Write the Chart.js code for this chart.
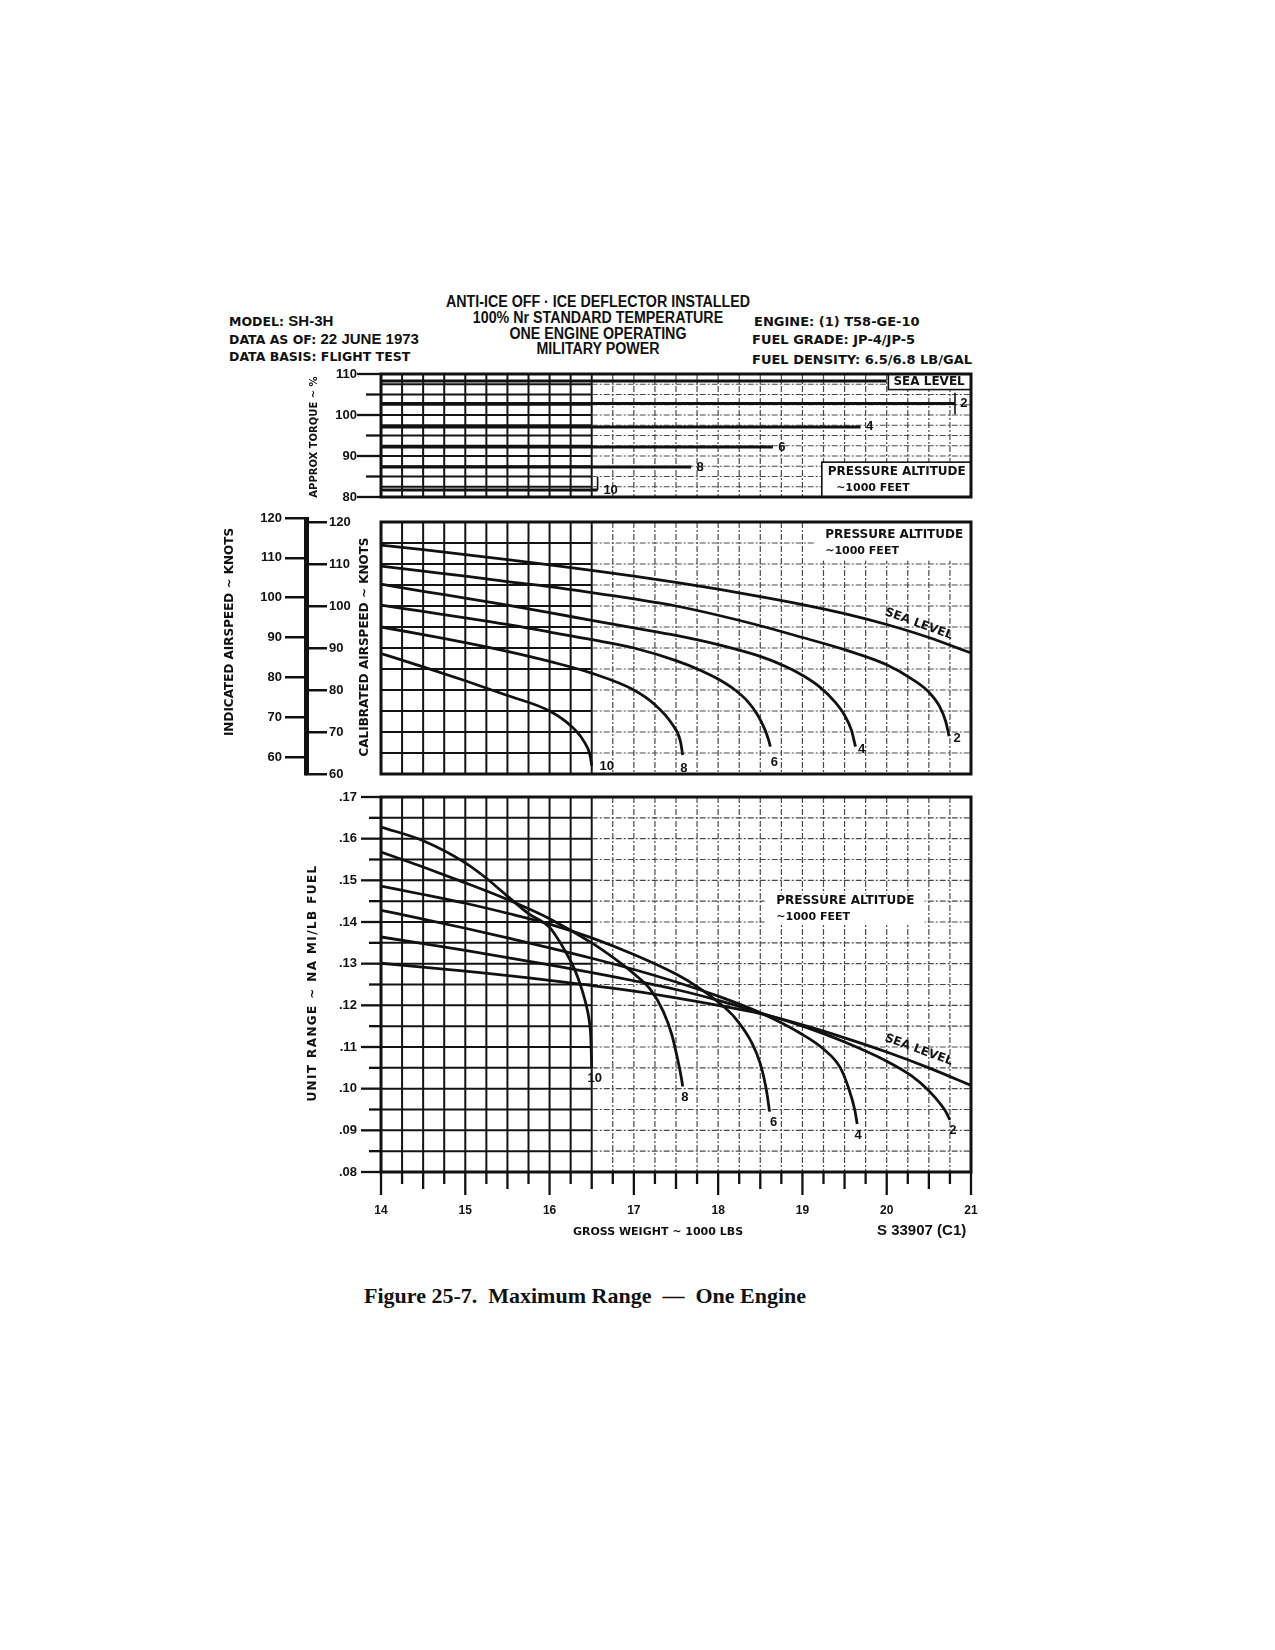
<!DOCTYPE html>
<html>
<head>
<meta charset="utf-8">
<script src="https://cdn.jsdelivr.net/npm/chart.js@4.4.1/dist/chart.umd.min.js"></script>
<style>
  html, body { margin: 0; padding: 0; background: #fff; }
  body { width: 1275px; height: 1650px; position: relative; overflow: hidden; }
  canvas { position: absolute; }
  .t { position: absolute; white-space: nowrap; color: #111; font-weight: bold; }
  .lab { font-family: "DejaVu Sans", sans-serif; font-size: 12.5px; line-height: 18px; }
  .val { font-family: "Liberation Sans", sans-serif; font-size: 15px; }
  .mid { font-family: "Liberation Sans", sans-serif; font-size: 16px; line-height: 15.8px;
         width: 400px; text-align: center; transform: scaleX(0.89); transform-origin: 50% 50%; }
  .cap { font-family: "Liberation Serif", serif; font-size: 22px; line-height: 26px; }
</style>
</head>
<body>

<div class="t lab" style="left:229px;top:312px">MODEL: <span class="val">SH-3H</span></div>
<div class="t lab" style="left:229px;top:330px">DATA AS OF: <span class="val">22 JUNE 1973</span></div>
<div class="t lab" style="left:229px;top:348px">DATA BASIS: FLIGHT TEST</div>

<div class="t mid" style="left:398px;top:294px">ANTI-ICE OFF · ICE DEFLECTOR INSTALLED<br>100% Nr STANDARD TEMPERATURE<br>ONE ENGINE OPERATING<br>MILITARY POWER</div>

<div class="t lab" style="left:754px;top:313px;font-size:13px">ENGINE: (1) T58-GE-10</div>
<div class="t lab" style="left:752px;top:331px;font-size:13px">FUEL GRADE: JP-4/JP-5</div>
<div class="t lab" style="left:752px;top:351px;font-size:13px">FUEL DENSITY: 6.5/6.8 LB/GAL</div>

<canvas id="torque" width="1275" height="160" style="left:0;top:355px"></canvas>
<canvas id="speed" width="1275" height="285" style="left:0;top:505px"></canvas>
<canvas id="conv" width="150" height="290" style="left:218px;top:500px"></canvas>
<canvas id="range" width="1275" height="472" style="left:0;top:780px"></canvas>

<div class="t lab" style="left:877px;top:1221px;font-family:'Liberation Sans',sans-serif;font-size:15px">S 33907 (C1)</div>
<div class="t cap" style="left:364px;top:1283px">Figure 25-7.&nbsp; Maximum Range &nbsp;—&nbsp; One Engine</div>

<script>
// ---- data (gross weight ~ 1000 lbs) ----
const weightTicks = [14, 15, 16, 17, 18, 19, 20, 21];
const torqueTicks = [80, 90, 100, 110];
const iasTicks = [60, 70, 80, 90, 100, 110, 120];
const casTicks = [60, 70, 80, 90, 100, 110, 120];
const rangeTicks = [0.08, 0.09, 0.10, 0.11, 0.12, 0.13, 0.14, 0.15, 0.16, 0.17];
const altitudes = ['SEA LEVEL', '2', '4', '6', '8', '10'];

// approx torque (%) for each pressure altitude, and the weight where the line stops
const torqueLevel = [108.3, 102.8, 97.1, 92.2, 87.3, 81.7];
const torqueEndW = [20.0, 20.81, 19.69, 18.65, 17.68, 16.57];

// calibrated airspeed (knots)
const casW_SL = [14, 14.5, 15, 15.5, 16, 16.5, 17, 17.5, 18, 18.5, 19, 19.5, 20, 20.5, 21];
const cas_SL  = [114.5, 113.4, 112.25, 111.05, 109.8, 108.5, 107.1, 105.6, 104.0, 102.25, 100.35, 98.2, 95.6, 92.5, 88.8];
const casW_2  = [14, 14.5, 15, 15.5, 16, 16.5, 17, 17.5, 18, 18.5, 19, 19.5, 20, 20.3, 20.5, 20.63, 20.7, 20.74];
const cas_2   = [109.5, 108.3, 107.1, 105.8, 104.6, 103.2, 101.7, 100.0, 97.8, 95.3, 92.5, 89.6, 86.0, 82.6, 79.5, 76.0, 72.5, 69.0];
const casW_4  = [14, 14.5, 15, 15.5, 16, 16.5, 17, 17.5, 18, 18.5, 18.8, 19, 19.2, 19.38, 19.5, 19.58, 19.63];
const cas_4   = [105.2, 103.5, 101.9, 100.2, 98.4, 96.6, 94.8, 93.0, 90.8, 88.0, 85.6, 83.5, 80.8, 77.3, 74.0, 70.5, 66.5];
const casW_6  = [14, 14.5, 15, 15.5, 16, 16.5, 17, 17.5, 17.8, 18, 18.2, 18.35, 18.47, 18.55, 18.6, 18.62];
const cas_6   = [100.2, 98.7, 97.2, 95.6, 93.8, 92.0, 90.0, 87.0, 84.6, 82.6, 80.0, 77.3, 74.0, 70.8, 68.0, 66.5];
const casW_8  = [14, 14.5, 15, 15.5, 16, 16.5, 17, 17.25, 17.45, 17.55, 17.58];
const cas_8   = [95.0, 93.2, 91.3, 89.2, 86.8, 84.0, 80.0, 76.5, 72.0, 68.0, 64.5];
const casW_10 = [14, 14.5, 15, 15.5, 16, 16.25, 16.4, 16.48, 16.5];
const cas_10  = [88.7, 85.5, 82.2, 78.7, 75.0, 71.5, 68.0, 64.5, 62.0];

// unit range (nautical miles per lb of fuel)
const urW_SL = [14, 15, 16, 17, 17.5, 18, 18.5, 19, 19.5, 20, 20.5, 21];
const ur_SL  = [0.1301, 0.1282, 0.1260, 0.1234, 0.1218, 0.1200, 0.1180, 0.1153, 0.1122, 0.1088, 0.1050, 0.1008];
const urW_2  = [14, 15, 16, 17, 17.5, 18, 18.5, 19, 19.5, 20, 20.3, 20.5, 20.63, 20.7, 20.75];
const ur_2   = [0.1364, 0.1332, 0.1297, 0.1259, 0.1238, 0.1212, 0.1182, 0.1150, 0.1112, 0.1066, 0.1030, 0.0995, 0.0965, 0.0945, 0.0925];
const urW_4  = [14, 14.5, 15, 15.5, 16, 16.5, 17, 17.5, 18, 18.5, 19, 19.25, 19.45, 19.55, 19.62, 19.65];
const ur_4   = [0.1428, 0.1407, 0.1385, 0.1362, 0.1338, 0.1313, 0.1286, 0.1256, 0.1222, 0.1182, 0.1130, 0.1095, 0.1050, 0.1000, 0.0950, 0.0915];
const urW_6  = [14, 14.5, 15, 15.5, 16, 16.5, 17, 17.5, 17.75, 18, 18.2, 18.4, 18.5, 18.57, 18.61];
const ur_6   = [0.1486, 0.1466, 0.1445, 0.1421, 0.1395, 0.1362, 0.1322, 0.1275, 0.1245, 0.1208, 0.1170, 0.1110, 0.1060, 0.1000, 0.0945];
const urW_8  = [14, 14.5, 15, 15.5, 16, 16.5, 16.8, 17, 17.2, 17.35, 17.45, 17.52, 17.56, 17.58];
const ur_8   = [0.1568, 0.1532, 0.1494, 0.1454, 0.1408, 0.1350, 0.1308, 0.1276, 0.1237, 0.1185, 0.1130, 0.1070, 0.1030, 0.1005];
const urW_10 = [14, 14.5, 15, 15.25, 15.5, 15.75, 16, 16.2, 16.3, 16.38, 16.44, 16.47, 16.49, 16.5];
const ur_10  = [0.1628, 0.1595, 0.1542, 0.1505, 0.1462, 0.1420, 0.1387, 0.1325, 0.1285, 0.1240, 0.1196, 0.1164, 0.1120, 0.1050];

// ---- styling ----
const INK = '#111';
const NUM_FAMILY = '"Liberation Sans", Arial, sans-serif';
const WIDE_FAMILY = '"DejaVu Sans", sans-serif';
const TICK_FONT = { family: NUM_FAMILY, size: 13, weight: 'bold' };
const TAG_FONT = 'bold 13px ' + NUM_FAMILY;
const NOTE_FONT = 'bold 12px ' + WIDE_FAMILY;
const SMALL_NOTE = 'bold 11px ' + WIDE_FAMILY;

Chart.defaults.animation = false;
Chart.defaults.color = INK;
Chart.defaults.font.family = NUM_FAMILY;
Chart.defaults.font.weight = 'bold';
Chart.defaults.plugins.legend.display = false;
Chart.defaults.plugins.tooltip.enabled = false;

const pts = (ws, vs) => ws.map((w, i) => ({ x: w, y: vs[i] }));
const fixTicks = list => scale => { scale.ticks = list.map(v => ({ value: v })); };

function curve(ws, vs, tag) {
  return {
    data: pts(ws, vs), tag,
    borderColor: INK, borderWidth: 2.8, pointRadius: 0, fill: false,
    cubicInterpolationMode: 'monotone'
  };
}

// axis titles, letter-spaced like the printed chart (positions in canvas pixels)
const sideTitles = {
  id: 'sideTitles',
  afterDraw(chart, args, o) {
    const ctx = chart.ctx;
    (o.list || []).forEach(t => {
      ctx.save();
      ctx.translate(t.x, t.y);
      if (t.vertical) ctx.rotate(-Math.PI / 2);
      ctx.font = 'bold ' + t.size + 'px ' + WIDE_FAMILY;
      ctx.letterSpacing = (t.spacing || 0) + 'px';
      ctx.fillStyle = INK; ctx.textAlign = 'center'; ctx.textBaseline = 'middle';
      ctx.fillText(t.text, 0, 0);
      ctx.restore();
    });
  }
};

// graph paper, border, tick marks and labels drawn through the chart's own scales
const paper = {
  id: 'paper',
  beforeDatasetsDraw(chart, args, o) {
    const { ctx, chartArea: a } = chart;
    const x = chart.scales.x, y = chart.scales.y;
    const sx = x.getPixelForValue(o.split);
    const seg = (x0, y0, x1, y1) => { ctx.beginPath(); ctx.moveTo(x0, y0); ctx.lineTo(x1, y1); ctx.stroke(); };
    const solid = () => { ctx.setLineDash([]); ctx.strokeStyle = '#141414'; ctx.lineWidth = 2; };
    const faint = () => { ctx.setLineDash([6, 2, 2, 2]); ctx.strokeStyle = '#4a4a4a'; ctx.lineWidth = 1.2; };
    ctx.save();
    for (let i = 1; x.min + i * o.xStep < x.max - 1e-9; i++) {
      const v = x.min + i * o.xStep, px = x.getPixelForValue(v);
      v <= o.split + 1e-9 ? solid() : faint();
      seg(px, a.top, px, a.bottom);
    }
    for (let i = 1; y.min + i * o.yStep < y.max - 1e-9; i++) {
      const py = y.getPixelForValue(y.min + i * o.yStep);
      solid(); seg(a.left, py, sx, py);
      faint(); seg(sx, py, a.right, py);
    }
    ctx.setLineDash([]);
    (o.panels || []).forEach(p => {
      const x0 = x.getPixelForValue(p.x0), x1 = x.getPixelForValue(p.x1);
      const y0 = y.getPixelForValue(p.y0), y1 = y.getPixelForValue(p.y1);
      ctx.fillStyle = '#fff';
      ctx.fillRect(x0, y1, x1 - x0, y0 - y1);
      if (p.stroke) { ctx.strokeStyle = INK; ctx.lineWidth = 1.6; ctx.strokeRect(x0, y1, x1 - x0, y0 - y1); }
    });
    ctx.restore();
  },
  afterDatasetsDraw(chart, args, o) {
    const { ctx } = chart;
    const x = chart.scales.x, y = chart.scales.y;
    ctx.save();
    ctx.fillStyle = INK; ctx.strokeStyle = INK;
    chart.data.datasets.forEach((ds, i) => {
      const els = chart.getDatasetMeta(i).data;
      const end = els[els.length - 1];
      const last = ds.data[ds.data.length - 1];
      if (ds.endTick) {
        ctx.lineWidth = 1.6;
        ctx.beginPath();
        ctx.moveTo(end.x, y.getPixelForValue(last.y - ds.endTick[0]));
        ctx.lineTo(end.x, y.getPixelForValue(last.y + ds.endTick[1]));
        ctx.stroke();
      }
      if (ds.tag) {
        ctx.font = TAG_FONT; ctx.textAlign = 'center'; ctx.textBaseline = 'middle';
        ctx.fillText(ds.tag.text, end.x + ds.tag.dx, end.y + ds.tag.dy);
      }
    });
    (o.notes || []).forEach(n => {
      ctx.save();
      ctx.translate(x.getPixelForValue(n.x), y.getPixelForValue(n.y));
      ctx.rotate((n.rot || 0) * Math.PI / 180);
      ctx.font = n.font || NOTE_FONT;
      ctx.textAlign = n.align || 'left'; ctx.textBaseline = 'middle';
      ctx.fillText(n.text, 0, 0);
      ctx.restore();
    });
    ctx.restore();
  },
  afterDraw(chart, args, o) {
    const { ctx, chartArea: a } = chart;
    const x = chart.scales.x, y = chart.scales.y;
    const seg = (x0, y0, x1, y1) => { ctx.beginPath(); ctx.moveTo(x0, y0); ctx.lineTo(x1, y1); ctx.stroke(); };
    ctx.save();
    ctx.strokeStyle = INK; ctx.setLineDash([]); ctx.lineWidth = 2.3;
    if (o.yLen) {
      for (let i = 0; y.min + i * o.yTick / 2 <= y.max + 1e-9; i++) {
        const py = y.getPixelForValue(y.min + i * o.yTick / 2);
        const len = i % 2 ? o.yLen[1] : o.yLen[0];
        seg(a.left - len, py, a.left, py);
      }
    }
    if (o.xLen) {
      for (let i = 0; x.min + i * 0.25 <= x.max + 1e-9; i++) {
        const px = x.getPixelForValue(x.min + i * 0.25);
        const len = i % 4 === 0 ? o.xLen[0] : (i % 2 === 0 ? o.xLen[1] : o.xLen[2]);
        seg(px, a.bottom, px, a.bottom + len);
      }
    }
    ctx.lineWidth = 3;
    ctx.strokeRect(a.left, a.top, a.right - a.left, a.bottom - a.top);
    ctx.restore();
  }
};

function weightAxis(show) {
  return {
    type: 'linear', min: 14, max: 21, display: show,
    grid: { display: false, drawTicks: false }, border: { display: false },
    afterBuildTicks: fixTicks(weightTicks),
    ticks: { font: { family: NUM_FAMILY, size: 12, weight: 'bold' }, padding: 31, maxRotation: 0, callback: v => String(v) },
    afterFit: s => { s.height = show ? 70 : 0; }
  };
}

function valueAxis(min, max, ticks, width, showTicks, fmt) {
  return {
    type: 'linear', position: 'left', min, max,
    grid: { display: false, drawTicks: false }, border: { display: false },
    afterBuildTicks: fixTicks(ticks),
    ticks: { display: showTicks, font: TICK_FONT, padding: 24, callback: fmt || (v => String(v)) },
    afterFit: s => { s.width = width; s.paddingTop = 0; s.paddingBottom = 0; }
  };
}

// ---- top panel: approx torque ----
const torqueSets = altitudes.map((alt, i) => ({
  data: [{ x: 14, y: torqueLevel[i] }, { x: torqueEndW[i], y: torqueLevel[i] }],
  borderColor: INK, borderWidth: 3, pointRadius: 0, fill: false,
  tag: alt === 'SEA LEVEL' ? null : { text: alt, dx: alt === '10' ? 13 : 9, dy: 0 },
  endTick: alt === '2' ? [2.6, 2.6] : (alt === '10' ? [0, 3.2] : null)
}));

new Chart(document.getElementById('torque'), {
  type: 'line',
  data: { datasets: torqueSets },
  options: {
    responsive: false,
    layout: { padding: { left: 305, right: 304, top: 19, bottom: 18 } },
    scales: {
      x: weightAxis(false),
      y: valueAxis(80, 110, torqueTicks, 76, true)
    },
    plugins: {
      paper: {
        split: 16.5, xStep: 0.25, yStep: 2.5, yTick: 10, yLen: [24, 15],
        panels: [
          { x0: 20.02, x1: 21, y0: 106.2, y1: 110, stroke: true },
          { x0: 19.23, x1: 21, y0: 80, y1: 88.5, stroke: true }
        ],
        notes: [
          { text: 'SEA LEVEL', x: 20.08, y: 108.1 },
          { text: 'PRESSURE ALTITUDE', x: 19.3, y: 86.2 },
          { text: '~1000 FEET', x: 19.4, y: 82.1, font: SMALL_NOTE }
        ]
      },
      sideTitles: { list: [{ text: 'APPROX TORQUE ~ %', x: 314, y: 82, size: 10, vertical: true }] }
    }
  },
  plugins: [paper, sideTitles]
});

// ---- middle panel: calibrated airspeed ----
new Chart(document.getElementById('speed'), {
  type: 'line',
  data: {
    datasets: [
      curve(casW_SL, cas_SL, null),
      curve(casW_2, cas_2, { text: '2', dx: 8, dy: 2 }),
      curve(casW_4, cas_4, { text: '4', dx: 6, dy: 3 }),
      curve(casW_6, cas_6, { text: '6', dx: 4, dy: 16 }),
      curve(casW_8, cas_8, { text: '8', dx: 1, dy: 13 }),
      curve(casW_10, cas_10, { text: '10', dx: 15, dy: 1 })
    ]
  },
  options: {
    responsive: false,
    layout: { padding: { left: 354, right: 304, top: 17, bottom: 16 } },
    scales: {
      x: weightAxis(false),
      y: valueAxis(60, 120, casTicks, 27, false)
    },
    plugins: {
      paper: {
        split: 16.5, xStep: 0.25, yStep: 5,
        panels: [{ x0: 19.15, x1: 21, y0: 110.8, y1: 120 }],
        notes: [
          { text: 'PRESSURE ALTITUDE', x: 19.27, y: 116.9 },
          { text: '~1000 FEET', x: 19.27, y: 113.1, font: SMALL_NOTE },
          { text: 'SEA LEVEL', x: 20.38, y: 95.7, rot: 20, align: 'center' }
        ]
      },
      sideTitles: { list: [{ text: 'CALIBRATED AIRSPEED ~ KNOTS', x: 365, y: 142, size: 12, vertical: true }] }
    }
  },
  plugins: [paper, sideTitles]
});

// ---- indicated / calibrated airspeed conversion scale ----
new Chart(document.getElementById('conv'), {
  type: 'line',
  data: { datasets: [] },
  options: {
    responsive: false,
    layout: { padding: { left: 0, right: 0, top: 18, bottom: 16 } },
    scales: {
      x: { type: 'linear', display: false, min: 0, max: 1 },
      ias: {
        type: 'linear', position: 'left', min: 55.73, max: 120,
        afterBuildTicks: fixTicks(iasTicks),
        grid: { drawOnChartArea: false, tickLength: 20, lineWidth: 2.5, color: INK },
        border: { display: true, width: 3, color: INK },
        ticks: { font: TICK_FONT, padding: 3 },
        afterFit: s => { s.width = 87; }
      },
      cas: {
        type: 'linear', position: 'right', min: 60, max: 120.95,
        afterBuildTicks: fixTicks(casTicks),
        grid: { drawOnChartArea: false, tickLength: 20, lineWidth: 2.5, color: INK },
        border: { display: true, width: 3, color: INK },
        ticks: { font: TICK_FONT, padding: 2 },
        afterFit: s => { s.width = 61; }
      }
    },
    plugins: {
      sideTitles: { list: [{ text: 'INDICATED AIRSPEED ~ KNOTS', x: 12, y: 132, size: 12, vertical: true }] }
    }
  },
  plugins: [sideTitles]
});

// ---- bottom panel: unit range ----
new Chart(document.getElementById('range'), {
  type: 'line',
  data: {
    datasets: [
      curve(urW_SL, ur_SL, null),
      curve(urW_2, ur_2, { text: '2', dx: 3, dy: 11 }),
      curve(urW_4, ur_4, { text: '4', dx: 1, dy: 11 }),
      curve(urW_6, ur_6, { text: '6', dx: 4, dy: 11 }),
      curve(urW_8, ur_8, { text: '8', dx: 2, dy: 11 }),
      curve(urW_10, ur_10, { text: '10', dx: 3, dy: 11 })
    ]
  },
  options: {
    responsive: false,
    layout: { padding: { left: 301, right: 304, top: 17, bottom: 10 } },
    scales: {
      x: weightAxis(true),
      y: valueAxis(0.08, 0.17, rangeTicks, 80, true, v => v.toFixed(2).slice(1))
    },
    plugins: {
      paper: {
        split: 16.5, xStep: 0.25, yStep: 0.005, yTick: 0.01, yLen: [20, 12], xLen: [23, 17, 12],
        panels: [{ x0: 18.55, x1: 20.45, y0: 0.1395, y1: 0.1468 }],
        notes: [
          { text: 'PRESSURE ALTITUDE', x: 18.69, y: 0.1450 },
          { text: '~1000 FEET', x: 18.69, y: 0.1412, font: SMALL_NOTE },
          { text: 'SEA LEVEL', x: 20.38, y: 0.1093, rot: 20, align: 'center' }
        ]
      },
      sideTitles: { list: [
        { text: 'UNIT RANGE ~ NA MI/LB FUEL', x: 313, y: 203, size: 12, spacing: 1.4, vertical: true },
        { text: 'GROSS WEIGHT ~ 1000 LBS', x: 658, y: 452, size: 11 }
      ] }
    }
  },
  plugins: [paper, sideTitles]
});
</script>
</body>
</html>
